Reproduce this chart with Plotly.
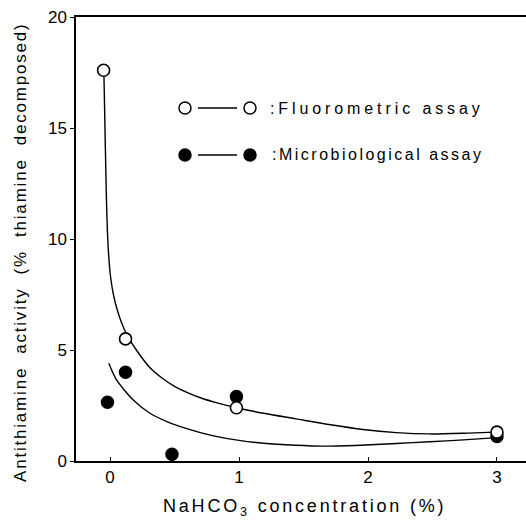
import plotly.graph_objects as go

# Measured data points
fluoro_x = [-0.05, 0.12, 0.98, 3.0]
fluoro_y = [17.6, 5.5, 2.4, 1.3]
micro_x = [-0.02, 0.12, 0.48, 0.98, 3.0]
micro_y = [2.65, 4.0, 0.3, 2.9, 1.1]

# Hand-drawn fitted curves
fluoro_curve_x = [-0.047, -0.036, -0.028, -0.020, -0.010, 0.004, 0.026, 0.056, 0.091, 0.129, 0.204, 0.31, 0.4, 0.5, 0.6, 0.7, 0.83, 0.98, 1.19, 1.44, 1.71, 1.96, 2.22, 2.48, 2.74, 2.97]
fluoro_curve_y = [17.3, 14.0, 11.8, 10.3, 9.2, 8.3, 7.5, 6.8, 6.2, 5.7, 5.0, 4.2, 3.75, 3.36, 3.08, 2.85, 2.62, 2.4, 2.15, 1.9, 1.63, 1.42, 1.28, 1.22, 1.25, 1.3]
micro_curve_x = [-0.01, 0.05, 0.18, 0.31, 0.45, 0.57, 0.7, 0.83, 1.0, 1.19, 1.44, 1.65, 1.9, 2.22, 2.48, 2.74, 2.97]
micro_curve_y = [4.4, 3.65, 2.75, 2.15, 1.75, 1.5, 1.28, 1.1, 0.93, 0.8, 0.71, 0.67, 0.7, 0.79, 0.87, 0.95, 1.04]

x_ticks = [0, 1, 2, 3]
y_ticks = [0, 5, 10, 15, 20]

legend_labels = [":Fluorometric assay", ":Microbiological assay"]
x_title = "NaHCO<sub>3</sub> concentration (%)"
y_title = "Antithiamine  activity  (%  thiamine  decomposed)"

FONT = "Liberation Sans"

def spaced(text, px_):
    return '<span style="letter-spacing:%spx">%s</span>' % (px_, text)

fig = go.Figure()
for cx, cy in ((fluoro_curve_x, fluoro_curve_y), (micro_curve_x, micro_curve_y)):
    fig.add_trace(go.Scatter(x=cx, y=cy, mode="lines",
                             line=dict(color="black", width=1.4, shape="spline", smoothing=0.7),
                             hoverinfo="skip", showlegend=False))
fig.add_trace(go.Scatter(x=micro_x, y=micro_y, mode="markers",
                         marker=dict(symbol="circle", size=12, color="black",
                                     line=dict(color="black", width=1.5)),
                         showlegend=False))
fig.add_trace(go.Scatter(x=fluoro_x, y=fluoro_y, mode="markers",
                         marker=dict(symbol="circle", size=12, color="white",
                                     line=dict(color="black", width=1.6)),
                         showlegend=False))

# Custom legend drawn in paper coordinates
W, H = 526, 520
L, R, T, B = 76, 0, 17, 59
pw, ph = W - L - R, H - T - B

def px(xp):
    return (xp - L) / pw

def py(yp):
    return 1 - (yp - T) / ph

shapes = []
annotations = []
legend_rows = [(108, "white", 268, 3.9), (155, "black", 270, 2.5)]
for (yrow, fill, tx, sp), label in zip(legend_rows, legend_labels):
    shapes.append(dict(type="line", xref="paper", yref="paper",
                       x0=px(198), x1=px(237), y0=py(yrow), y1=py(yrow),
                       line=dict(color="black", width=1.3)))
    for xc in (185, 250):
        r = 6
        shapes.append(dict(type="circle", xref="paper", yref="paper",
                           x0=px(xc - r), x1=px(xc + r), y0=py(yrow - r), y1=py(yrow + r),
                           fillcolor=fill, line=dict(color="black", width=1.5)))
    annotations.append(dict(xref="paper", yref="paper", x=px(tx), y=py(yrow),
                            text=spaced(label, sp), showarrow=False, xanchor="left", yanchor="middle",
                            font=dict(family=FONT, size=16, color="black")))

# axis titles as annotations for precise placement
annotations.append(dict(xref="paper", yref="paper", x=px(304), y=py(507),
                        text=spaced(x_title, 2.8), showarrow=False, xanchor="center", yanchor="middle",
                        font=dict(family=FONT, size=18, color="black")))
annotations.append(dict(xref="paper", yref="paper", x=px(20), y=py(252), textangle=-90,
                        text=spaced(y_title, 1.8), showarrow=False, xanchor="center", yanchor="middle",
                        font=dict(family=FONT, size=17, color="black")))

fig.update_layout(
    width=W, height=H,
    margin=dict(l=L, r=R, t=T, b=B, pad=0),
    paper_bgcolor="white", plot_bgcolor="white",
    font=dict(family=FONT, color="black"),
    shapes=shapes, annotations=annotations,
    xaxis=dict(range=[-0.264, 3.225], tickvals=x_ticks, ticktext=[str(v) for v in x_ticks],
               showgrid=False, zeroline=False, showline=True, linecolor="black", linewidth=1.5,
               mirror=True, ticks="inside", ticklen=4, tickcolor="black",
               tickfont=dict(family=FONT, size=17)),
    yaxis=dict(range=[0, 20], tickvals=y_ticks, ticktext=[str(v) for v in y_ticks],
               showgrid=False, zeroline=False, showline=True, linecolor="black", linewidth=1.5,
               ticks="outside", ticklen=4, tickcolor="black",
               tickfont=dict(family=FONT, size=17)),
)

fig.write_html("out.html")
